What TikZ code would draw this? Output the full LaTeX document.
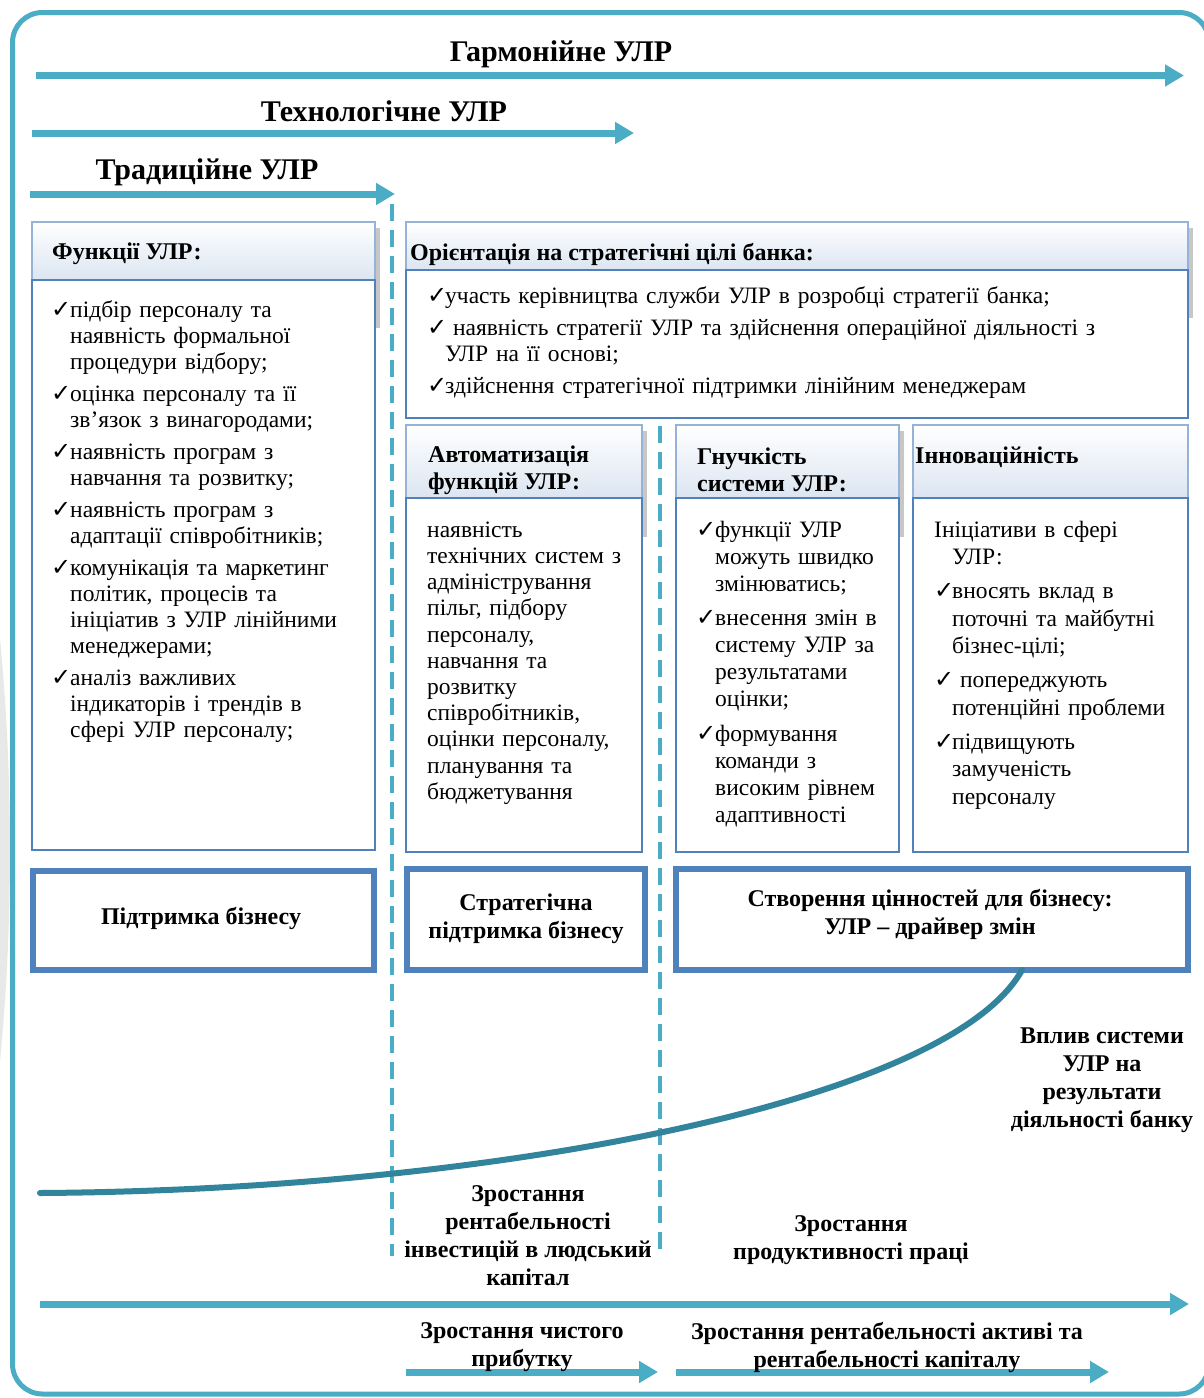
\documentclass[tikz,border=0pt]{standalone}
\usepackage{fontspec}
\setmainfont{Liberation Serif}[Ligatures=ResetAll]
\newfontfamily\symfont{DejaVu Sans}
\usetikzlibrary{arrows.meta}

\definecolor{aqua}{HTML}{4BACC6}
\definecolor{frameblue}{HTML}{4F81BD}
\definecolor{lightframe}{HTML}{95B3D7}
\definecolor{headbot}{HTML}{DBE5F1}
\definecolor{curveteal}{HTML}{31849B}

% check mark and list item with hanging indent
\newcommand{\ck}{{\symfont\fontsize{24}{24}\selectfont ✓}}
\newlength{\itmind}
\setlength{\itmind}{19pt}
\newlength{\itmgap}
\setlength{\itmgap}{6pt}
\newcommand{\itm}[1]{\hangindent=\itmind\hangafter=1\noindent\makebox[\itmind][l]{\ck}\strut{\let\\\newline #1}\par\vspace{\itmgap}}
\newcommand{\hangline}[1]{\hangindent=\itmind\hangafter=1\noindent\strut{\let\\\newline #1}\par\vspace{\itmgap}}

\tikzset{
  flow/.style={draw=aqua, line width=7pt, -{Triangle[length=19pt,width=21pt]}},
  divider/.style={draw=aqua, line width=4.5pt, dash pattern=on 17pt off 9pt},
  headbox/.style={rectangle, draw=lightframe, line width=1.5pt, top color=white, bottom color=headbot, inner sep=0pt},
  bodybox/.style={rectangle, draw=frameblue, line width=2pt, fill=white, inner sep=0pt},
  resultbox/.style={rectangle, draw=frameblue, line width=6pt, fill=white, inner sep=0pt},
  boxshadow/.style={fill=black!22},
  title/.style={font=\bfseries\fontsize{30}{34}\selectfont, inner sep=0pt},
  headtext/.style={font=\bfseries\fontsize{24}{27}\selectfont, align=left, inner sep=0pt},
  bodytext/.style={font=\fontsize{23.5}{26}\selectfont, align=left, anchor=north west, inner sep=0pt},
  boldtext/.style={font=\bfseries\fontsize{24}{28}\selectfont, align=center, inner sep=0pt},
  impact/.style={draw=curveteal, line width=6pt, line cap=round},
}

\begin{document}
\begin{tikzpicture}[x=1pt,y=-1pt]
\useasboundingbox (0,0) rectangle (1203,1398);
\fill[white] (0,0) rectangle (1203,1398);

% faint grey band outside the frame on the left
\begin{scope}
  \clip (0,0) rectangle (11,1398);
  \fill[black!9] (-2200,850) circle (2210);
\end{scope}

% outer rounded frame
\draw[aqua, line width=5pt, rounded corners=30pt] (12.5,12.5) rectangle (1209,1394);

% stages of HR management
\node[title] (tH) at (561,54) {Гармонійне УЛР};
\node[title] (tT) at (384,111) {Технологічне УЛР};
\node[title] (tR) at (207,172) {Традиційне УЛР};

\coordinate (aH1) at (36,75.5);  \coordinate (aH2) at (1184,75.5);
\coordinate (aT1) at (32,133);   \coordinate (aT2) at (634,133);
\coordinate (aR1) at (30,194);   \coordinate (aR2) at (395,194);
\draw[flow] (aH1) -- (aH2);
\draw[flow] (aT1) -- (aT2);
\draw[flow] (aR1) -- (aR2);

% dashed dividers between stages
\coordinate (d1a) at (392,204);  \coordinate (d1b) at (392,1256);
\coordinate (d2a) at (660,426);  \coordinate (d2b) at (660,1256);
\draw[divider] (d1a) -- (d1b);
\draw[divider] (d2a) -- (d2b);

% box shadows
\fill[boxshadow] (376,228) rectangle (379.5,328);
\fill[boxshadow] (1189,228) rectangle (1192.5,318);
\fill[boxshadow] (643,431) rectangle (646.5,537);
\fill[boxshadow] (900,431) rectangle (903.5,537);

% feature boxes: header + body
\node[headbox, minimum width=343pt, minimum height=58pt] (h1) at (203.5,251) {};
\node[bodybox, minimum width=343pt, minimum height=570pt] (b1) at (203.5,565) {};
\node[headbox, minimum width=782pt, minimum height=48pt] (h2) at (797,246) {};
\node[bodybox, minimum width=782pt, minimum height=148pt] (b2) at (797,344) {};
\node[headbox, minimum width=236pt, minimum height=73pt] (h3) at (524,461.5) {};
\node[bodybox, minimum width=236pt, minimum height=354pt] (b3) at (524,675) {};
\node[headbox, minimum width=223pt, minimum height=73pt] (h4) at (787.5,461.5) {};
\node[bodybox, minimum width=223pt, minimum height=354pt] (b4) at (787.5,675) {};
\node[headbox, minimum width=275pt, minimum height=73pt] (h5) at (1050.5,461.5) {};
\node[bodybox, minimum width=275pt, minimum height=354pt] (b5) at (1050.5,675) {};

% header captions
\node[headtext, anchor=west] (h1t) at (52,254) {Функції УЛР:};
\node[headtext, anchor=west] (h2t) at (410,254) {Орієнтація на стратегічні цілі банка:};
\node[headtext, anchor=west] (h3t) at (428,470) {Автоматизація\\функцій УЛР:};
\node[headtext, anchor=west] (h4t) at (697,470) {Гнучкість\\системи УЛР:};
\node[headtext, anchor=west] (h5t) at (915,457) {Інноваційність};

% box contents
\node[bodytext, text width=320pt] (b1t) at (51,298.8) {%
\itm{підбір персоналу та\\наявність формальної\\процедури відбору;}%
\itm{оцінка персоналу та її\\зв'язок з винагородами;}%
\itm{наявність програм з\\навчання та розвитку;}%
\itm{наявність програм з\\адаптації співробітників;}%
\itm{комунікація та маркетинг\\політик, процесів та\\ініціатив з УЛР лінійними\\менеджерами;}%
\itm{аналіз важливих\\індикаторів і трендів в\\сфері УЛР персоналу;}};

\node[bodytext, text width=760pt] (b2t) at (427,284.8) {\setlength{\itmind}{18pt}%
\itm{участь керівництва служби УЛР в розробці стратегії банка;}%
\itm{\ наявність стратегії УЛР та здійснення операційної діяльності з\\УЛР на її основі;}%
\itm{здійснення стратегічної підтримки лінійним менеджерам}};

\node[bodytext, text width=225pt, font=\fontsize{23.5}{26.2}\selectfont] (b3t) at (427,518.7) {\strut наявність\\технічних систем з\\адміністрування\\пільг, підбору\\персоналу,\\навчання та\\розвитку\\співробітників,\\оцінки персоналу,\\планування та\\бюджетування};

\node[bodytext, text width=215pt, font=\fontsize{23.5}{27}\selectfont] (b4t) at (696,518.1) {\setlength{\itmind}{19pt}\setlength{\itmgap}{7.5pt}%
\itm{функції УЛР\\можуть швидко\\змінюватись;}%
\itm{внесення змін в\\систему УЛР за\\результатами\\оцінки;}%
\itm{формування\\команди з\\високим рівнем\\адаптивності}};

\node[bodytext, text width=265pt, font=\fontsize{23.5}{27.5}\selectfont] (b5t) at (934,517.8) {\setlength{\itmind}{18pt}\setlength{\itmgap}{6.5pt}%
\hangline{Ініціативи в сфері\\УЛР:}%
\itm{вносять вклад в\\поточні та майбутні\\бізнес-цілі;}%
\itm{\ попереджують\\потенційні проблеми}%
\itm{підвищують\\замученість\\персоналу}};

% business role boxes
\node[resultbox, minimum width=341.5pt, minimum height=98.5pt] (r1) at (203.25,920.25) {};
\node[resultbox, minimum width=238pt, minimum height=101pt] (r2) at (526,919.5) {};
\node[resultbox, minimum width=512pt, minimum height=101pt] (r3) at (932,919.5) {};
\node[boldtext] (r1t) at (201,918) {Підтримка бізнесу};
\node[boldtext] (r2t) at (526,919) {Стратегічна\\підтримка бізнесу};
\node[boldtext] (r3t) at (930,914) {Створення цінностей для бізнесу:\\УЛР – драйвер змін};

% impact curve
\coordinate (c0) at (40,1193);
\coordinate (c1) at (1022,970);
\draw[impact] (c0) .. controls (500,1190) and (950,1100) .. (c1);

\node[boldtext] (imp) at (1102,1080) {Вплив системи\\УЛР на\\результати\\діяльності банку};
\node[boldtext] (o1) at (528,1236) {Зростання\\рентабельності\\інвестицій в людський\\капітал};
\node[boldtext] (o2) at (851,1240) {Зростання\\продуктивності праці};

% bottom outcome arrows
\coordinate (m1) at (40,1304);   \coordinate (m2) at (1189,1304);
\coordinate (p1) at (406,1372);  \coordinate (p2) at (658,1372);
\coordinate (q1) at (676,1372);  \coordinate (q2) at (1109,1372);
\draw[flow] (m1) -- (m2);
\draw[flow] (p1) -- (p2);
\draw[flow] (q1) -- (q2);

\node[boldtext] (o3) at (522,1347) {Зростання чистого\\прибутку};
\node[boldtext] (o4) at (887,1347) {Зростання рентабельності активі та\\рентабельності капіталу};
\end{tikzpicture}
\end{document}
